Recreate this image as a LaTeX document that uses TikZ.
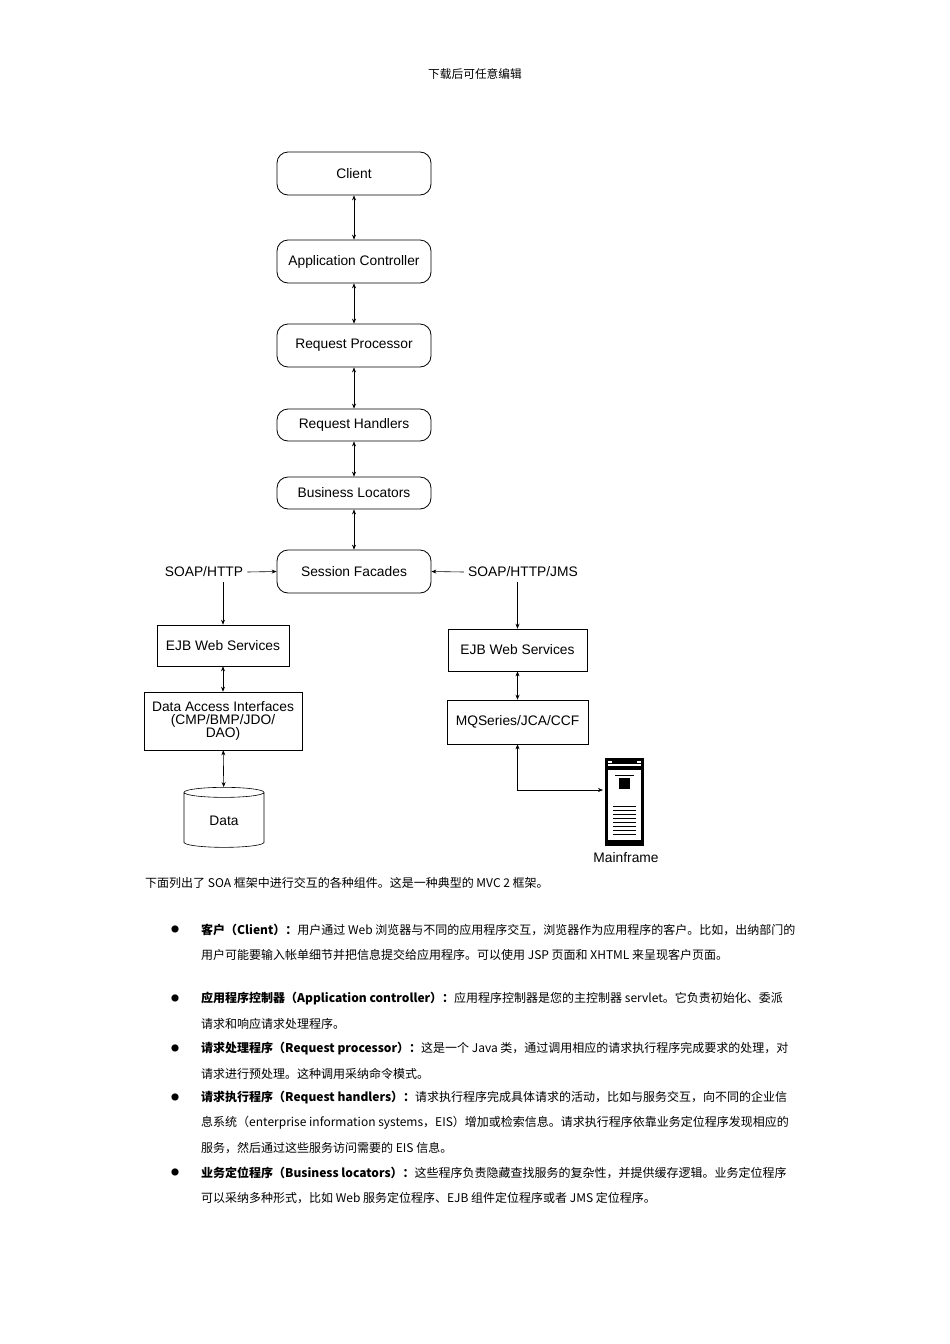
\documentclass[tikz,border=0pt]{standalone}
\usepackage{fontspec}
\setmainfont{Liberation Sans}
\newfontfamily\cjk{Noto Sans CJK SC}
\usetikzlibrary{shapes.geometric,arrows.meta}
\begin{document}
\begin{tikzpicture}[x=1pt,y=-1pt,
  rbox/.style={draw,thick,rounded corners=11pt,minimum width=154pt,font=\fontsize{13.8}{15}\selectfont,inner sep=0pt},
  sbox/.style={draw,semithick,font=\fontsize{13.8}{15}\selectfont,align=center,inner sep=0pt},
  lbl/.style={font=\fontsize{13.8}{15}\selectfont,inner sep=1pt},
  dbl/.style={semithick,{Stealth[length=5pt,width=4pt]}-{Stealth[length=5pt,width=4pt]}},
  sgl/.style={semithick,-{Stealth[length=5pt,width=4pt]}},
  body/.style={font=\cjk\fontsize{12}{12}\selectfont,anchor=west,inner sep=0pt},
  bul/.style={font=\cjk\fontsize{8}{12}\selectfont,inner sep=0pt}]
\useasboundingbox (0,0) rectangle (950,1344);
\node[font=\cjk\fontsize{11.7}{13}\selectfont] (hdr) at (475,74) {下载后可任意编辑};
% main column
\node[rbox,minimum height=43pt] (client) at (354,173.5) {Client};
\node[rbox,minimum height=43pt] (ac) at (354,261.5) {Application Controller};
\node[rbox,minimum height=43pt] (rp) at (354,345.5) {Request Processor};
\node[rbox,minimum height=32pt] (rh) at (354,425) {Request Handlers};
\node[rbox,minimum height=32pt] (bl) at (354,493) {Business Locators};
\node[rbox,minimum height=43pt] (sf) at (354,571.5) {Session Facades};
\draw[dbl] (client) -- (ac);
\draw[dbl] (ac) -- (rp);
\draw[dbl] (rp) -- (rh);
\draw[dbl] (rh) -- (bl);
\draw[dbl] (bl) -- (sf);
% left branch
\node[lbl] (soap1) at (204,572) {SOAP/HTTP};
\node[lbl] (soap2) at (523,572) {SOAP/HTTP/JMS};
\draw[sgl] (soap1.east)++(3,0) coordinate (s1e) -- (sf.west);
\draw[sgl] (soap2.west)++(-3,0) coordinate (s2w) -- (sf.east);
\node[sbox,minimum width=132pt,minimum height=41pt] (ejb1) at (223,645.5) {EJB Web Services};
\node[sbox,minimum width=158pt,minimum height=58pt] (dai) at (223,721) {Data Access Interfaces\\[-2pt](CMP/BMP/JDO/\\[-2pt]DAO)};
\node[cylinder,shape border rotate=90,draw,semithick,aspect=0.28,minimum width=80pt,minimum height=60pt,font=\fontsize{13.8}{15}\selectfont] (data) at (224,821) {Data};
\draw[sgl] ([yshift=-4pt]soap1.south -| ejb1.north) -- (ejb1.north);
\draw[dbl] (ejb1) -- (dai);
\draw[dbl] (dai) -- (data);
% right branch
\node[sbox,minimum width=139pt,minimum height=42pt] (ejb2) at (517.5,650) {EJB Web Services};
\node[sbox,minimum width=141pt,minimum height=44pt] (mq) at (517.5,722) {MQSeries/JCA/CCF};
\draw[sgl] ([yshift=-4pt]soap2.south -| ejb2.north) -- (ejb2.north);
\draw[dbl] (ejb2) -- (mq);
% mainframe
\coordinate (mf) at (603,790);
\fill (605,758) rectangle (644,846);
\fill[white] (608,770) rectangle (641,840);
\draw[white,line width=1.2pt] (608,765) -- (641,765);
\fill[white] (608,761) rectangle (612,763);\fill[white] (637,761) rectangle (641,763);
\draw[semithick] (615,775) -- (634,775);
\fill (619,778) rectangle (630,789);
\foreach \yy in {806,810,...,834} \draw[line width=1pt] (613,\yy) -- (636,\yy);
\node[lbl] (mflbl) at (626,858) {Mainframe};
\draw[semithick,{Stealth[length=5pt,width=4pt]}-{Stealth[length=5pt,width=4pt]}] (mq.south) |- (mf);
% body text
\node[body] (t0) at (145,883) {下面列出了 SOA 框架中进行交互的各种组件。这是一种典型的 MVC 2 框架。};
\foreach \yy in {930,999,1049,1098,1173} \node[bul] at (175,\yy-1) {●};
\node[body] (t1) at (201,930) {\textbf{客户（Client）：}用户通过 Web 浏览器与不同的应用程序交互，浏览器作为应用程序的客户。比如，出纳部门的};
\node[body] (t2) at (201,955) {用户可能要输入帐单细节并把信息提交给应用程序。可以使用 JSP 页面和 XHTML 来呈现客户页面。};
\node[body] (t3) at (201,999) {\textbf{应用程序控制器（Application controller）：}应用程序控制器是您的主控制器 servlet。它负责初始化、委派};
\node[body] (t4) at (201,1024) {请求和响应请求处理程序。};
\node[body] (t5) at (201,1049) {\textbf{请求处理程序（Request processor）：}这是一个 Java 类，通过调用相应的请求执行程序完成要求的处理，对};
\node[body] (t6) at (201,1074) {请求进行预处理。这种调用采纳命令模式。};
\node[body] (t7) at (201,1098) {\textbf{请求执行程序（Request handlers）：}请求执行程序完成具体请求的活动，比如与服务交互，向不同的企业信};
\node[body] (t8) at (201,1123) {息系统（enterprise information systems，EIS）增加或检索信息。请求执行程序依靠业务定位程序发现相应的};
\node[body] (t9) at (201,1148) {服务，然后通过这些服务访问需要的 EIS 信息。};
\node[body] (t10) at (201,1173) {\textbf{业务定位程序（Business locators）：}这些程序负责隐藏查找服务的复杂性，并提供缓存逻辑。业务定位程序};
\node[body] (t11) at (201,1198) {可以采纳多种形式，比如 Web 服务定位程序、EJB 组件定位程序或者 JMS 定位程序。};
\end{tikzpicture}
\end{document}
